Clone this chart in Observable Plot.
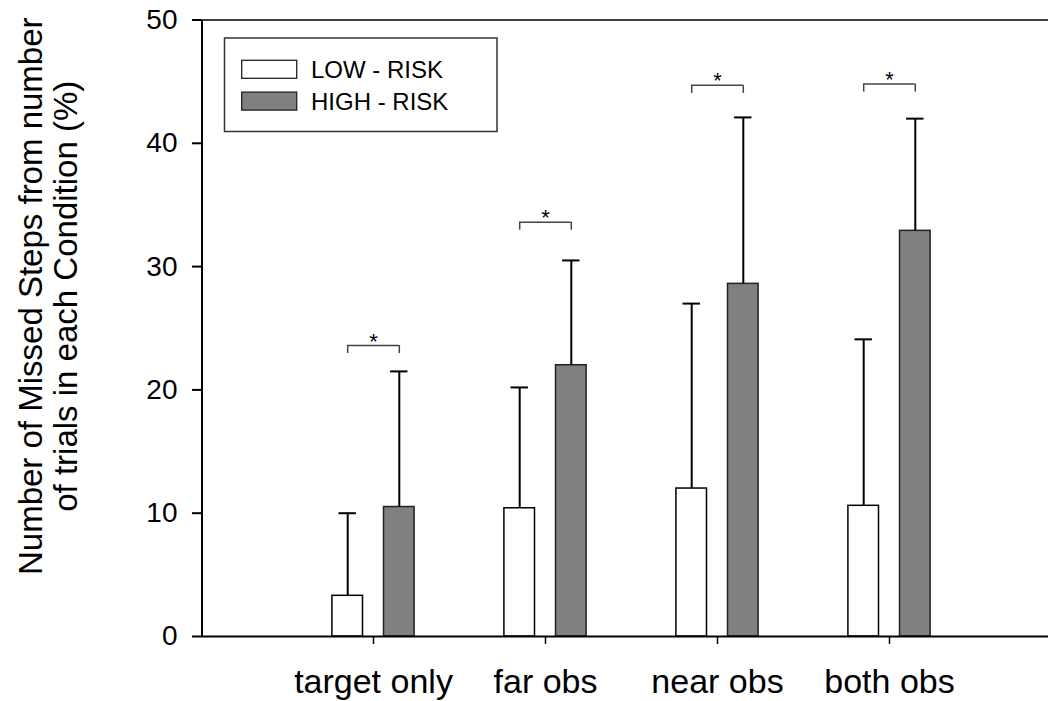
<!DOCTYPE html>
<html>
<head>
<meta charset="utf-8">
<script src="https://cdn.jsdelivr.net/npm/d3@7"></script>
<script src="https://cdn.jsdelivr.net/npm/@observablehq/plot@0.6"></script>
<style>
  html, body { margin: 0; padding: 0; background: #fff; }
  #wrap { position: relative; width: 1050px; height: 701px; font-family: "Liberation Sans", Arial, sans-serif; }
  #legend { position: absolute; left: 0; top: 0; }
</style>
</head>
<body>
<div id="wrap"></div>
<script>
// ---- data ----
const conditions = ["target only", "far obs", "near obs", "both obs"];
const lowMean  = [3.3, 10.4, 12.0, 10.6];
const lowErr   = [10.0, 20.2, 27.0, 24.1];   // top of error bar
const highMean = [10.5, 22.0, 28.6, 32.9];
const highErr  = [21.5, 30.5, 42.1, 42.0];   // top of error bar
const bracketY = [23.6, 33.6, 44.7, 44.8];   // significance brackets
const sigMark  = ["*", "*", "*", "*"];
const yTicks   = [0, 10, 20, 30, 40, 50];
const yDomain  = [0, 50];
const seriesNames  = ["LOW - RISK", "HIGH - RISK"];
const seriesColors = ["#ffffff", "#808080"];
const yTitle = "Number of Missed Steps from number\nof trials in each Condition (%)";

const rows = conditions.map((c, i) => ({
  cond: c, low: lowMean[i], lowErr: lowErr[i], high: highMean[i], highErr: highErr[i],
  bracket: bracketY[i], sig: sigMark[i]
}));

const off = 25.8;        // px offset of each bar from category centre
const barInset = 70.7;   // band 172px -> bar width ~30.6px
const capInset = 77.3;   // cap width ~17.4px
const brInset = 86 - off;

const chart = Plot.plot({
  width: 1050,
  height: 701,
  marginLeft: 201,
  marginRight: 2,
  marginTop: 19.5,
  marginBottom: 65,
  style: { fontFamily: "'Liberation Sans', Arial, sans-serif", color: "#000", background: "#fff" },
  x: { type: "band", domain: conditions, range: [286.5, 974.5], padding: 0 },
  y: { domain: yDomain, range: [636, 19.5] },
  marks: [
    // bars
    Plot.barY(rows, { x: "cond", y: "low", dx: -off, insetLeft: barInset, insetRight: barInset,
      fill: seriesColors[0], stroke: "#000", strokeWidth: 1.5 }),
    Plot.barY(rows, { x: "cond", y: "high", dx: off, insetLeft: barInset, insetRight: barInset,
      fill: seriesColors[1], stroke: "#222", strokeWidth: 1.5 }),
    // error bars (upper only)
    Plot.ruleX(rows, { x: "cond", y1: "low", y2: "lowErr", dx: -off, stroke: "#000", strokeWidth: 2 }),
    Plot.ruleX(rows, { x: "cond", y1: "high", y2: "highErr", dx: off, stroke: "#000", strokeWidth: 2 }),
    Plot.tickY(rows, { x: "cond", y: "lowErr", dx: -off, insetLeft: capInset, insetRight: capInset, stroke: "#000", strokeWidth: 2 }),
    Plot.tickY(rows, { x: "cond", y: "highErr", dx: off, insetLeft: capInset, insetRight: capInset, stroke: "#000", strokeWidth: 2 }),
    // significance brackets
    Plot.tickY(rows, { x: "cond", y: "bracket", insetLeft: brInset, insetRight: brInset, stroke: "#444", strokeWidth: 1.5 }),
    Plot.ruleX(rows, { x: "cond", y1: "bracket", y2: "bracket", dx: -off, insetBottom: -8, stroke: "#444", strokeWidth: 1.5 }),
    Plot.ruleX(rows, { x: "cond", y1: "bracket", y2: "bracket", dx: off, insetBottom: -8, stroke: "#444", strokeWidth: 1.5 }),
    Plot.text(rows, { x: "cond", y: "bracket", text: "sig", dy: -4, fontSize: 22, fill: "#000" }),
    // frame lines: bottom, top, left
    Plot.ruleY([yDomain[0]], { stroke: "#000", strokeWidth: 2 }),
    Plot.ruleY([yDomain[1]], { stroke: "#000", strokeWidth: 1.5 }),
    Plot.ruleX([conditions[0]], { y1: yDomain[0], y2: yDomain[1], dx: -171.5, stroke: "#000", strokeWidth: 2 }),
    // axes
    Plot.axisY({ ticks: yTicks, tickSize: 9, tickPadding: 15, fontSize: 28, strokeWidth: 2, label: null }),
    Plot.axisX({ tickSize: 8, tickPadding: 24, fontSize: 34, strokeWidth: 1.5, label: null }),
    // y title
    Plot.text([yTitle], { frameAnchor: "left", textAnchor: "middle", dx: -153, dy: -32, rotate: -90,
      fontSize: 33, lineHeight: 1.05, fill: "#000" })
  ]
});

const wrap = document.getElementById("wrap");
wrap.appendChild(chart);

// legend (overlay inside the plot area)
const lg = d3.select(wrap).append("svg").attr("id", "legend").attr("width", 1050).attr("height", 701)
  .style("pointer-events", "none");
lg.append("rect").attr("x", 224.5).attr("y", 38).attr("width", 272.5).attr("height", 93.5)
  .attr("fill", "#fff").attr("stroke", "#333").attr("stroke-width", 1.5);
seriesNames.forEach((name, i) => {
  const yc = 69.3 + i * 31.8;
  lg.append("rect").attr("x", 241.7).attr("y", yc - 9).attr("width", 55).attr("height", 18)
    .attr("fill", seriesColors[i]).attr("stroke", "#222").attr("stroke-width", 1.3);
  lg.append("text").attr("x", 311).attr("y", yc).attr("dy", "0.35em")
    .attr("font-family", "'Liberation Sans', Arial, sans-serif").attr("font-size", 24)
    .attr("fill", "#000").text(name);
});
</script>
</body>
</html>
